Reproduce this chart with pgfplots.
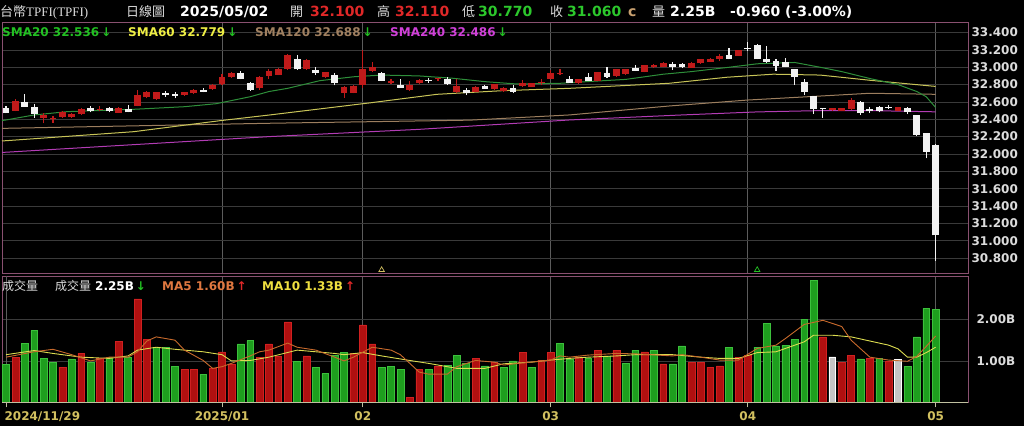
\documentclass[border=0pt]{standalone}
\usepackage{fontspec}
\setmainfont{DejaVu Sans}
\newfontfamily\cjk{Noto Sans CJK TC}
\newfontfamily\serifl{Liberation Serif}
\usepackage{pgfplots}
\pgfplotsset{compat=1.18}
\usepackage{pgfplotstable}

\definecolor{gridc}{HTML}{3A3A3A}
\definecolor{vgrid}{HTML}{5C5C5C}
\definecolor{framec}{HTML}{8A5070}
\definecolor{upred}{HTML}{C01A1A}
\definecolor{dnwhite}{HTML}{F2F2F2}
\definecolor{volgreen}{HTML}{1E9E1E}
\definecolor{volgreenE}{HTML}{3CC03C}
\definecolor{volred}{HTML}{B01010}
\definecolor{volredE}{HTML}{D02020}
\definecolor{volgray}{HTML}{C4C4C4}
\definecolor{sma20}{HTML}{2E8E3A}
\definecolor{sma60}{HTML}{C8C458}
\definecolor{sma120}{HTML}{9C7E5E}
\definecolor{sma240}{HTML}{B23CB4}
\definecolor{txt20}{HTML}{22C022}
\definecolor{txt60}{HTML}{EEEE44}
\definecolor{txt120}{HTML}{A08060}
\definecolor{txt240}{HTML}{D040D8}
\definecolor{ma5}{HTML}{C86A2C}
\definecolor{ma10}{HTML}{DCDC50}
\definecolor{ma5t}{HTML}{E07840}
\definecolor{ma10t}{HTML}{F0E040}
\definecolor{hdrred}{HTML}{E02828}
\definecolor{hdrgreen}{HTML}{2CC82C}
\definecolor{labelc}{HTML}{DCDCDC}
\definecolor{datec}{HTML}{D2C060}
\definecolor{tickc}{HTML}{C0C0A0}
\definecolor{tanc}{HTML}{C8A070}

\pgfplotstableread{
x o h l c
1 32.50 32.63 32.49 32.61
4 32.42 32.476 32.353 32.45
5 32.40 32.44 32.36 32.42
6 32.43 32.50 32.42 32.484
7 32.43 32.47 32.42 32.46
8 32.46 32.53 32.455 32.52
10 32.504 32.55 32.49 32.515
12 32.476 32.54 32.47 32.53
14 32.553 32.74 32.55 32.677
15 32.653 32.73 32.64 32.71
16 32.63 32.72 32.62 32.71
19 32.68 32.72 32.67 32.71
20 32.70 32.75 32.69 32.738
22 32.75 32.81 32.74 32.80
23 32.807 32.92 32.80 32.885
24 32.885 32.94 32.88 32.93
27 32.757 32.90 32.74 32.89
28 32.90 32.98 32.87 32.96
29 32.914 32.99 32.91 32.977
30 32.98 33.15 32.97 33.14
32 32.977 33.09 32.97 33.08
34 32.885 32.95 32.88 32.94
36 32.707 32.78 32.65 32.776
37 32.707 32.79 32.70 32.78
38 32.80 33.20 32.757 32.977
39 32.957 33.06 32.95 33.007
41 32.815 32.87 32.81 32.845
43 32.738 32.84 32.73 32.80
44 32.815 32.86 32.81 32.853
46 32.861 32.88 32.84 32.876
48 32.72 32.86 32.70 32.784
50 32.718 32.78 32.71 32.776
52 32.75 32.81 32.74 32.807
53 32.73 32.77 32.72 32.757
55 32.788 32.85 32.77 32.815
56 32.776 32.82 32.77 32.815
57 32.815 32.87 32.79 32.834
58 32.865 32.97 32.86 32.93
59 32.92 32.98 32.91 32.93
61 32.815 32.87 32.81 32.865
63 32.845 32.95 32.84 32.94
65 32.90 32.98 32.89 32.977
66 32.92 32.98 32.91 32.977
68 32.95 33.03 32.94 33.026
69 33.0 33.04 32.99 33.026
70 33.007 33.06 33.0 33.05
73 32.995 33.06 32.99 33.05
74 33.046 33.10 33.04 33.096
75 33.064 33.11 33.06 33.10
76 33.09 33.15 33.07 33.13
78 33.134 33.20 33.13 33.20
88 32.507 32.53 32.50 32.53
89 32.50 32.535 32.495 32.53
90 32.518 32.64 32.51 32.62
95 32.50 32.545 32.49 32.538
}\upc

\pgfplotstableread{
x o h l c
0 32.527 32.555 32.469 32.469
2 32.60 32.688 32.545 32.545
3 32.545 32.576 32.418 32.461
9 32.527 32.55 32.48 32.492
11 32.527 32.54 32.48 32.49
13 32.52 32.56 32.48 32.48
17 32.70 32.73 32.66 32.68
18 32.69 32.71 32.64 32.67
21 32.738 32.76 32.71 32.718
25 32.93 32.96 32.86 32.868
26 32.82 32.83 32.73 32.738
31 33.09 33.14 32.97 32.977
33 32.97 33.00 32.91 32.93
35 32.91 32.93 32.79 32.815
40 32.93 32.94 32.84 32.845
42 32.796 32.87 32.764 32.764
45 32.857 32.88 32.82 32.84
47 32.865 32.89 32.80 32.807
49 32.738 32.76 32.68 32.70
51 32.784 32.80 32.75 32.75
54 32.757 32.79 32.70 32.718
60 32.865 32.90 32.82 32.822
62 32.885 32.93 32.84 32.845
64 32.93 33.007 32.88 32.89
67 32.988 33.03 32.955 32.96
71 33.04 33.06 32.97 33.007
72 33.04 33.05 32.99 33.0
77 33.14 33.22 33.09 33.10
79 33.22 33.29 33.19 33.207
80 33.257 33.27 33.09 33.09
81 33.10 33.245 33.05 33.064
82 33.076 33.09 32.96 33.015
83 33.057 33.11 33.0 33.007
84 32.977 32.98 32.795 32.885
85 32.834 32.86 32.68 32.718
86 32.668 32.67 32.46 32.515
87 32.53 32.535 32.42 32.518
91 32.60 32.61 32.455 32.47
92 32.518 32.54 32.47 32.50
93 32.545 32.55 32.48 32.50
94 32.545 32.56 32.52 32.534
96 32.527 32.54 32.46 32.48
97 32.45 32.45 32.21 32.219
98 32.245 32.245 31.95 32.026
99 32.100 32.110 30.770 31.060
}\dnc

\pgfplotstableread{
x v
0 0.92
2 1.43
3 1.73
4 1.06
5 0.97
7 1.05
9 0.96
11 1.09
13 1.08
16 1.33
17 1.33
18 0.86
21 0.68
25 1.41
26 1.49
31 0.98
33 0.85
34 0.69
35 1.13
36 1.21
40 0.85
41 0.86
42 0.80
45 0.79
47 0.90
48 1.14
49 0.94
51 0.88
53 0.84
54 1.00
56 0.84
59 1.43
60 1.04
62 1.06
64 1.12
66 0.94
67 1.26
69 1.25
71 0.93
72 1.36
77 1.33
80 1.33
81 1.91
82 1.36
83 1.38
84 1.52
85 2.00
86 2.95
91 1.05
93 1.06
96 0.86
97 1.58
98 2.27
99 2.25
}\volg

\pgfplotstableread{
x v
1 1.09
6 0.85
8 1.18
10 1.06
12 1.48
14 2.50
15 1.52
19 0.80
20 0.80
22 0.82
23 1.22
24 0.93
27 1.09
28 1.41
29 1.12
30 1.94
32 1.12
37 1.18
38 1.87
39 1.41
43 0.12
44 0.80
46 0.88
50 1.06
52 0.96
55 1.21
57 1.02
58 1.21
61 1.10
63 1.26
65 1.26
68 1.22
70 0.93
73 0.96
74 0.96
75 0.85
76 0.88
78 1.09
79 1.14
87 1.58
89 0.97
90 1.13
92 1.06
94 1.00
}\volr

\pgfplotstableread{
x v
88 1.10
95 1.04
}\volgr

\begin{document}
\begin{tikzpicture}
\fill[black] (0pt,0pt) rectangle (1024pt,426pt);

% ---------------- price panel ----------------
\begin{axis}[
  at={(2pt,153pt)}, anchor=south west, scale only axis,
  width=966pt, height=251pt,
  xmin=-0.43, xmax=102.45, ymin=30.627, ymax=33.522,
  axis line style={draw=framec, line width=0.9pt},
  xtick={23,38,58,79,99}, xticklabels={},
  xmajorgrids, x grid style={draw=vgrid, line width=0.7pt},
  ytick={30.8,31,31.2,31.4,31.6,31.8,32,32.2,32.4,32.6,32.8,33,33.2,33.4},
  ymajorgrids, y grid style={draw=gridc, line width=0.7pt},
  ytick pos=right, yticklabel pos=right,
  tick style={draw=none},
  scaled y ticks=false,
  /pgf/number format/assume math mode=true,
  yticklabel style={font=\fontsize{12}{12}\selectfont\bfseries, text=labelc,
    /pgf/number format/fixed, /pgf/number format/fixed zerofill,
    /pgf/number format/precision=3},
]
\addplot[sma240, line width=1pt] coordinates {(-0.43,32.018) (0,32.02) (14,32.11) (28,32.20) (44,32.284) (60,32.392) (72,32.45) (80,32.485) (86.7,32.50) (92,32.50) (99,32.486)};
\addplot[sma120, line width=1pt] coordinates {(-0.43,32.295) (0,32.296) (28,32.354) (49.4,32.39) (60,32.45) (70.6,32.553) (79,32.622) (86.7,32.668) (92,32.70) (99,32.688)};
\addplot[sma60, line width=1pt] coordinates {(-0.43,32.15) (0,32.153) (13.6,32.257) (22.8,32.384) (28.1,32.45) (38.8,32.59) (45.9,32.688) (52.9,32.73) (60,32.757) (70.6,32.815) (76.8,32.885) (81.7,32.92) (86.7,32.91) (92,32.85) (99,32.779)};
\addplot[sma20, line width=1pt] coordinates {(-0.43,32.385) (0,32.392) (3,32.45) (6.5,32.488) (13.6,32.515) (19,32.545) (22.4,32.58) (26,32.66) (28,32.72) (30,32.757) (33.4,32.845) (37,32.89) (40,32.91) (44,32.90) (47.6,32.873) (51,32.834) (54.4,32.807) (59,32.815) (62,32.835) (66,32.86) (70,32.92) (73,32.95) (77,33.00) (80,33.04) (84,33.055) (86.7,33.0) (89,32.95) (92,32.87) (95,32.80) (97,32.72) (98,32.66) (99,32.536)};
% wicks
\addplot[draw=none, error bars/.cd, y dir=plus, y explicit, error mark=none,
  error bar style={draw=upred, line width=1.1pt}]
  table[x=x, y=l, y error plus expr=\thisrow{h}-\thisrow{l}] {\upc};
\addplot[draw=none, error bars/.cd, y dir=plus, y explicit, error mark=none,
  error bar style={draw=dnwhite, line width=1.1pt}]
  table[x=x, y=l, y error plus expr=\thisrow{h}-\thisrow{l}] {\dnc};
% bodies
\addplot[draw=none, error bars/.cd, y dir=plus, y explicit, error mark=none,
  error bar style={draw=upred, line width=6.8pt}]
  table[x=x, y=o, y error plus expr={max(\thisrow{c}-\thisrow{o},0.012)}] {\upc};
\addplot[draw=none, error bars/.cd, y dir=plus, y explicit, error mark=none,
  error bar style={draw=dnwhite, line width=6.8pt}]
  table[x=x, y=c, y error plus expr={max(\thisrow{o}-\thisrow{c},0.012)}] {\dnc};
% event markers
\addplot[only marks, mark=triangle, mark size=3.2pt, draw=datec, line width=0.7pt] coordinates {(40,30.662)};
\addplot[only marks, mark=triangle, mark size=3.2pt, draw=txt20, line width=0.7pt] coordinates {(80,30.662)};
\end{axis}

% ---------------- volume panel ----------------
\begin{axis}[
  at={(2pt,23.7pt)}, anchor=south west, scale only axis,
  width=966pt, height=126.3pt,
  xmin=-0.43, xmax=102.45, ymin=0, ymax=3.05,
  axis line style={draw=framec, line width=0.9pt},
  xtick={23,38,58,79,99}, xticklabels={2025/01,02,03,04,05},
  extra x ticks={0}, extra x tick labels={2024/11/29},
  extra x tick style={xticklabel style={anchor=north west, xshift=-5pt}},
  xmajorgrids, x grid style={draw=vgrid, line width=0.7pt},
  ytick={1,2}, yticklabels={1.00B,2.00B},
  ymajorgrids, y grid style={draw=gridc, line width=0.7pt},
  ytick pos=right, yticklabel pos=right, xtick pos=left,
  tick align=outside, major tick length=5pt,
  xtick style={draw=tickc, line width=0.8pt}, ytick style={draw=none},
  xticklabel style={font=\fontsize{12}{12}\selectfont\bfseries, text=datec, yshift=-1pt},
  yticklabel style={font=\fontsize{12}{12}\selectfont\bfseries, text=labelc},
]
\addplot[ybar, bar width=6.8pt, bar shift=0pt, fill=volgreen, draw=volgreenE, line width=0.5pt] table[x=x, y=v] {\volg};
\addplot[ybar, bar width=6.8pt, bar shift=0pt, fill=volred, draw=volredE, line width=0.5pt] table[x=x, y=v] {\volr};
\addplot[ybar, bar width=6.8pt, bar shift=0pt, fill=volgray, draw=white, line width=0.5pt] table[x=x, y=v] {\volgr};
\addplot[ma10, line width=0.9pt] coordinates {(0,1.15) (3,1.25) (5,1.18) (8,1.09) (11,1.06) (13,1.12) (14,1.26) (16,1.33) (18,1.28) (21,1.22) (23,1.15) (24,1.00) (26,1.01) (28,1.09) (31,1.26) (33,1.22) (35,1.18) (36,1.15) (38,1.20) (40,1.12) (43,1.01) (45,0.94) (48,0.82) (51,0.82) (53,0.93) (56,0.97) (58,1.02) (60,1.06) (62,1.09) (65,1.12) (67,1.15) (71,1.15) (74,1.09) (76,1.06) (78,1.06) (80,1.20) (82,1.22) (83,1.30) (85,1.46) (86,1.62) (88,1.62) (90,1.58) (92,1.48) (94,1.38) (95,1.29) (96,1.09) (97,1.09) (98,1.20) (99,1.33)};
\addplot[ma5, line width=0.9pt] coordinates {(0,1.09) (3,1.22) (5,1.28) (7,1.15) (9,1.00) (11,1.09) (13,1.09) (14,1.22) (15,1.48) (16,1.58) (18,1.50) (19,1.26) (21,1.01) (22,0.82) (23,0.86) (24,0.94) (26,1.12) (27,1.22) (28,1.26) (30,1.43) (31,1.33) (33,1.26) (35,1.09) (36,1.00) (37,1.09) (39,1.33) (41,1.26) (42,1.15) (44,0.73) (45,0.68) (47,0.68) (48,0.86) (50,1.01) (52,0.97) (53,0.90) (55,0.95) (58,1.02) (59,1.12) (60,1.09) (62,1.14) (65,1.18) (67,1.17) (71,1.12) (72,1.15) (74,1.09) (76,1.02) (78,1.02) (80,1.30) (82,1.38) (83,1.54) (85,1.88) (87,1.98) (89,1.83) (90,1.50) (92,1.09) (94,1.02) (96,0.99) (97,1.11) (98,1.35) (99,1.60)};
\draw[draw=tickc, line width=0.9pt] (rel axis cs:0,0) -- (rel axis cs:1,0);
\end{axis}

% ---------------- header texts ----------------
\begin{scope}[every node/.style={inner sep=0pt, anchor=base west}]
\node[text=labelc] at (0pt,409.5pt) {\fontsize{13}{13}\selectfont{\cjk 台幣}{\serifl TPFI(TPFI)}};
\node[text=labelc] at (126pt,409.5pt) {\cjk\fontsize{13}{13}\selectfont 日線圖};
\node[text=white] at (180pt,409.5pt) {\fontsize{14}{14}\selectfont\bfseries 2025/05/02};
\node[text=labelc] at (290pt,409.5pt) {\cjk\fontsize{13}{13}\selectfont 開};
\node[text=hdrred] at (310pt,409.5pt) {\fontsize{14}{14}\selectfont\bfseries 32.100};
\node[text=labelc] at (377pt,409.5pt) {\cjk\fontsize{13}{13}\selectfont 高};
\node[text=hdrred] at (395pt,409.5pt) {\fontsize{14}{14}\selectfont\bfseries 32.110};
\node[text=labelc] at (462pt,409.5pt) {\cjk\fontsize{13}{13}\selectfont 低};
\node[text=hdrgreen] at (478pt,409.5pt) {\fontsize{14}{14}\selectfont\bfseries 30.770};
\node[text=labelc] at (550pt,409.5pt) {\cjk\fontsize{13}{13}\selectfont 收};
\node[text=hdrgreen] at (567pt,409.5pt) {\fontsize{14}{14}\selectfont\bfseries 31.060};
\node[text=tanc] at (628pt,409.5pt) {\fontsize{14}{14}\selectfont\bfseries c};
\node[text=labelc] at (652pt,409.5pt) {\cjk\fontsize{13}{13}\selectfont 量};
\node[text=white] at (670pt,409.5pt) {\fontsize{14}{14}\selectfont\bfseries 2.25B};
\node[text=white] at (730pt,409.5pt) {\fontsize{14}{14}\selectfont\bfseries -0.960 (-3.00\%)};
% SMA legend
\node[text=txt20] at (2pt,389.3pt) {\fontsize{12}{12}\selectfont\bfseries SMA20 32.536\,{\color{txt20}↓}};
\node[text=txt60] at (128pt,389.3pt) {\fontsize{12}{12}\selectfont\bfseries SMA60 32.779\,{\color{txt20}↓}};
\node[text=txt120] at (255pt,389.3pt) {\fontsize{12}{12}\selectfont\bfseries SMA120 32.688\,{\color{txt20}↓}};
\node[text=txt240] at (390pt,389.3pt) {\fontsize{12}{12}\selectfont\bfseries SMA240 32.486\,{\color{txt20}↓}};
% volume legend
\node[text=labelc] at (2pt,136pt) {\cjk\fontsize{12}{12}\selectfont 成交量};
\node[text=labelc] at (55pt,136pt) {\cjk\fontsize{12}{12}\selectfont 成交量};
\node[text=white] at (95pt,136pt) {\fontsize{12}{12}\selectfont\bfseries 2.25B\,{\color{txt20}↓}};
\node[text=ma5t] at (162pt,136pt) {\fontsize{12}{12}\selectfont\bfseries MA5 1.60B\,{\color{hdrred}↑}};
\node[text=ma10t] at (262pt,136pt) {\fontsize{12}{12}\selectfont\bfseries MA10 1.33B\,{\color{hdrred}↑}};
\end{scope}
\end{tikzpicture}
\end{document}
